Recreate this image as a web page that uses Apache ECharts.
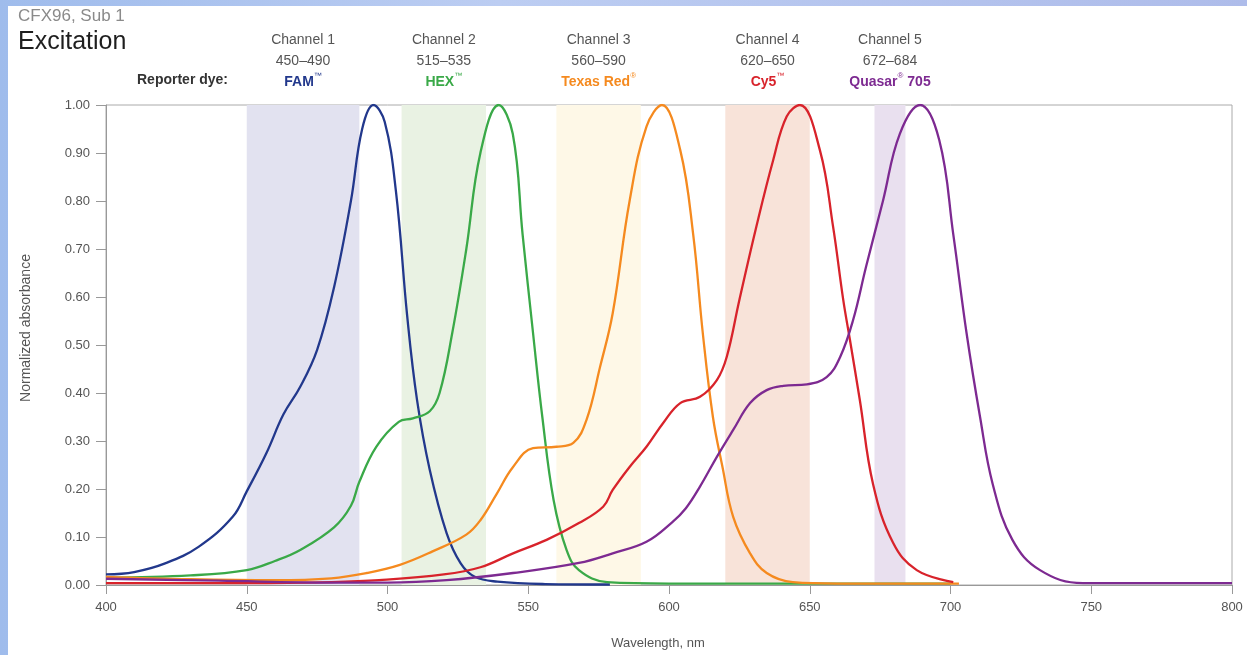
<!DOCTYPE html>
<html>
<head>
<meta charset="utf-8">
<script src="https://cdn.jsdelivr.net/npm/echarts@6/dist/echarts.min.js"></script>
<style>
  html, body { margin: 0; padding: 0; width: 1247px; height: 655px; overflow: hidden; }
  body { background: linear-gradient(90deg, #9fbcec 0%, #bccdf2 40%, #aebcea 100%); }
  #chart { position: absolute; left: 8px; top: 6px; width: 1239px; height: 649px; background: #fff; }
</style>
</head>
<body>
<div id="chart"></div>
<script>
// x ticks / y ticks
var xTicks = [400, 450, 500, 550, 600, 650, 700, 750, 800]
var yTicks = [0, 0.1, 0.2, 0.3, 0.4, 0.5, 0.6, 0.7, 0.8, 0.9, 1.0]

// channels
var channelNames = ['Channel 1', 'Channel 2', 'Channel 3', 'Channel 4', 'Channel 5']
var channelRanges = ['450–490', '515–535', '560–590', '620–650', '672–684']
var bandStart = [450, 505, 560, 620, 673]
var bandEnd = [490, 535, 590, 650, 684]
var dyeName = ['FAM', 'HEX', 'Texas Red', 'Cy5', 'Quasar']
var dyeMark = ['™', '™', '®', '™', '®']
var dyeSuffix = ['', '', '', '', ' 705']

// normalized absorbance curves [nm, value]
var famData = [[400, 0.022], [410, 0.027], [421, 0.045], [433, 0.08], [445, 0.142], [450, 0.195], [457, 0.275],
  [463, 0.355], [469, 0.413], [475, 0.49], [481, 0.62], [487, 0.8], [491, 0.95], [495, 1.0], [499, 0.965],
  [503, 0.82], [507, 0.56], [510.5, 0.385], [515, 0.24], [521, 0.108], [526, 0.045], [531, 0.017],
  [539, 0.007], [556, 0.002], [579, 0.001]]
var hexData = [[400, 0.015], [430, 0.02], [450, 0.031], [460, 0.05], [469, 0.073], [481, 0.12], [487, 0.165],
  [490, 0.215], [496, 0.288], [504, 0.34], [509, 0.347], [515, 0.362], [518.5, 0.4], [523, 0.525], [528, 0.7],
  [533, 0.9], [539.5, 1.0], [544.5, 0.94], [548, 0.73], [551.7, 0.525], [555, 0.35], [559, 0.177],
  [563.6, 0.073], [568, 0.031], [578, 0.006], [600, 0.003], [700, 0.003]]
var texasData = [[400, 0.017], [430, 0.012], [460, 0.01], [480, 0.014], [492.6, 0.025], [504.4, 0.042],
  [516, 0.07], [528, 0.105], [533, 0.135], [538.8, 0.19], [544.6, 0.246], [551.7, 0.285], [560, 0.288],
  [566, 0.296], [570.7, 0.344], [575.5, 0.454], [580, 0.566], [586, 0.8], [592, 0.955], [597.5, 1.0],
  [604, 0.906], [608.6, 0.73], [612, 0.525], [615.6, 0.35], [619, 0.246], [622.8, 0.142], [628.8, 0.066],
  [634.7, 0.025], [644, 0.006], [660, 0.003], [703, 0.003]]
var cy5Data = [[400, 0.004], [450, 0.004], [480, 0.006], [497, 0.01], [520, 0.022], [533, 0.037], [544.6, 0.066],
  [556.5, 0.094], [568, 0.129], [576.6, 0.163], [580, 0.198], [586, 0.246], [592, 0.288], [598, 0.338],
  [604, 0.379], [611, 0.392], [617, 0.427], [620.5, 0.475], [625, 0.594], [631, 0.746], [637, 0.885],
  [641.8, 0.976], [646.5, 1.0], [653.6, 0.906], [658.3, 0.746], [661.9, 0.594], [664.3, 0.51], [667.8, 0.385],
  [672.5, 0.21], [679.6, 0.088], [688, 0.031], [701, 0.006]]
var quasarData = [[400, 0.013], [440, 0.009], [480, 0.005], [500, 0.005], [521, 0.01], [544.6, 0.025],
  [568, 0.046], [580, 0.066], [592, 0.09], [601, 0.13], [606, 0.16], [611, 0.205], [617, 0.267],
  [622.8, 0.323], [628.8, 0.379], [634.7, 0.406], [640.6, 0.415], [649, 0.418], [656, 0.433], [660.8, 0.475],
  [665.4, 0.552], [670, 0.663], [676, 0.8], [682, 0.94], [689.2, 1.0], [696, 0.927], [701, 0.73],
  [705.7, 0.525], [710.5, 0.35], [715, 0.21], [722, 0.094], [731.8, 0.031], [747, 0.004], [800, 0.004]]

var dyeColors = ['#22388c', '#3aa948', '#f58a1f', '#d8232b', '#7d2a91']
var bandColors = ['#e2e2f0', '#e9f2e3', '#fef8e7', '#f8e3d9', '#e9e0ef']
var seriesData = [famData, hexData, texasData, cy5Data, quasarData]

var font = '"Liberation Sans", Arial, sans-serif'
var chart = echarts.init(document.getElementById('chart'))

var bands = bandStart.map(function(s, i) {
  var rich = {
    ch: { fontFamily: font, fontSize: 14, color: '#555', lineHeight: 21, align: 'center' },
    dye: { fontFamily: font, fontSize: 14, fontWeight: 'bold', color: dyeColors[i], lineHeight: 21 },
    sup: { fontFamily: font, fontSize: 8, color: dyeColors[i], verticalAlign: 'top', lineHeight: 21, padding: [0, 0, 6, 0] }
  }
  return [{
    xAxis: s,
    itemStyle: { color: bandColors[i] },
    label: {
      show: true,
      position: 'top',
      distance: 12,
      align: 'center',
      formatter: '{ch|' + channelNames[i] + '}\n{ch|' + channelRanges[i] + '}\n{dye|' + dyeName[i] + '}{sup|' +
        dyeMark[i] + '}' + (dyeSuffix[i] ? '{dye|' + dyeSuffix[i] + '}' : ''),
      rich: rich
    }
  }, { xAxis: bandEnd[i] }]
})

var lineSeries = seriesData.map(function(d, i) {
  return {
    type: 'line',
    name: dyeName[i],
    data: d,
    smooth: 0.4,
    showSymbol: false,
    z: 3,
    lineStyle: { color: dyeColors[i], width: 2.3 },
    itemStyle: { color: dyeColors[i] }
  }
})

chart.setOption({
  animation: false,
  textStyle: { fontFamily: font },
  grid: {
    left: 98, top: 99, width: 1126, height: 480,
    outerBoundsMode: 'none',
    show: true, borderColor: '#aaa', borderWidth: 1
  },
  graphic: [
    { type: 'text', left: 10, top: 2, style: { text: 'CFX96, Sub 1', font: '17px ' + font, fill: '#8a8a8a' } },
    { type: 'text', left: 10, top: 24, style: { text: 'Excitation', font: '25px ' + font, fill: '#1e1e1e' } },
    { type: 'text', right: 1239 - 220, top: 67, style: { text: 'Reporter dye:', font: 'bold 14px ' + font, fill: '#333' } }
  ],
  xAxis: {
    type: 'value',
    min: 400,
    max: 800,
    interval: 50,
    name: 'Wavelength, nm',
    nameLocation: 'middle',
    nameGap: 52,
    nameTextStyle: { fontSize: 13, color: '#555', padding: [0, 22, 0, 0] },
    axisLine: { lineStyle: { color: '#999' } },
    axisTick: { length: 9, lineStyle: { color: '#999' } },
    axisLabel: { fontSize: 13, color: '#555', margin: 16 },
    splitLine: { show: false }
  },
  yAxis: {
    type: 'value',
    min: 0,
    max: 1,
    interval: 0.1,
    name: 'Normalized absorbance',
    nameLocation: 'middle',
    nameGap: 73,
    nameTextStyle: { fontSize: 14, color: '#555', padding: [0, 0, 0, 34] },
    axisLine: { show: true, lineStyle: { color: '#999' } },
    axisTick: { show: true, length: 10, lineStyle: { color: '#999' } },
    axisLabel: { fontSize: 13, color: '#555', margin: 16, formatter: function(v) { return v.toFixed(2) } },
    splitLine: { show: false }
  },
  series: [{
    type: 'line',
    data: [],
    z: 1,
    silent: true,
    markArea: { silent: true, data: bands }
  }].concat(lineSeries)
})
</script>
</body>
</html>
